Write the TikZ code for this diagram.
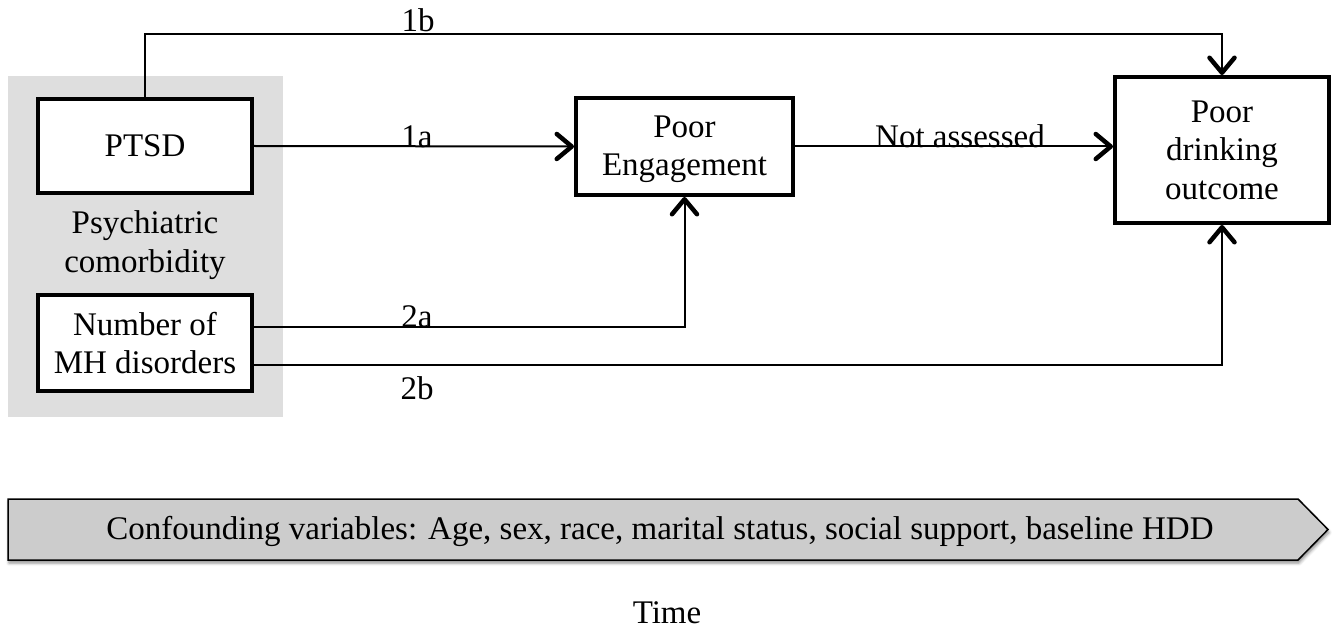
\documentclass[tikz,border=0pt]{standalone}
\usepackage{fontspec}
\setmainfont{Liberation Serif}
\usetikzlibrary{arrows.meta,shadows.blur}
\definecolor{regiongray}{RGB}{222,222,222}
\definecolor{bannergray}{RGB}{204,204,204}
\begin{document}
\begin{tikzpicture}[x=1pt,y=-1pt,
  every node/.style={font=\fontsize{33}{38.5}\selectfont, inner sep=0pt},
  multi/.style={align=center},
  box/.style={draw=black, line width=4pt, fill=white, align=center},
  conn/.style={draw=black, line width=2pt},
  arr/.style={-{Straight Barb[length=15pt,width=25pt,line width=4.5pt,round]}},
  lbl/.style={anchor=base}]
\useasboundingbox (0,0) rectangle (1333,628);
\fill[regiongray] (8,76) rectangle (283,417);
\node[box, minimum width=214pt, minimum height=94pt] (ptsd) at (145,146) {PTSD};
\node[multi] (psych) at (145,245) {Psychiatric\\comorbidity};
\node[box, minimum width=214pt, minimum height=96pt] (mh) at (145,343) {Number of\\MH disorders};
\node[box, minimum width=217pt, minimum height=97pt] (eng) at (684.5,146.5) {\strut Poor\\Engagement};
\node[box, minimum width=214pt, minimum height=146pt] (out) at (1222,150) {Poor\\drinking\\outcome};
\draw[conn, arr] (ptsd.north) -- (ptsd.north |- 0,34) -| (out.north);
\draw[conn, arr] (ptsd.east) -- (eng.west);
\draw[conn, arr] (eng.east) -- (eng.east -| out.west);
\draw[conn, arr] ([yshift=16pt]mh.east) -| (eng.south);
\draw[conn, arr] ([yshift=-22pt]mh.east) -| (out.south);
\node[lbl] (l1b) at (418,32) {1b};
\node[lbl] (l1a) at (417,148) {1a};
\node[lbl] (l2a) at (417,327) {2a};
\node[lbl] (l2b) at (417,399) {2b};
\node[lbl] (lna) at (960,148) {Not assessed};
\path[draw=black, line width=1.5pt, fill=bannergray,
  blur shadow={shadow xshift=1pt, shadow yshift=-3pt, shadow blur radius=3pt, shadow opacity=45}]
  (8,499) -- (1298,499) -- (1328,529.5) -- (1298,560) -- (8,560) -- cycle;
\node (conf) at (660,531) {Confounding variables: Age, sex, race, marital status, social support, baseline HDD};
\node[lbl] (time) at (667,623) {Time};
\end{tikzpicture}
\end{document}
